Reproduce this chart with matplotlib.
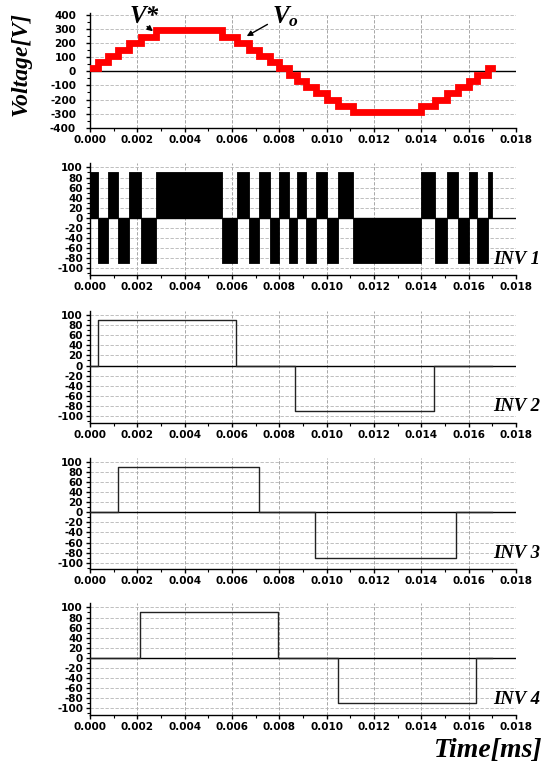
import matplotlib
matplotlib.use("Agg")
import matplotlib.pyplot as plt
from matplotlib.ticker import MultipleLocator, FormatStrFormatter

# switching instants (s) shared by the staircase and the PWM inverter
t_sw = [0.0, 0.00035, 0.00077, 0.00119, 0.00166, 0.00215, 0.00277, 0.00558,
        0.00621, 0.00671, 0.00715, 0.00761, 0.00800, 0.00841, 0.00873, 0.00913,
        0.00954, 0.01001, 0.01049, 0.01112, 0.01397, 0.01456, 0.01508, 0.01555,
        0.01600, 0.01637, 0.01681, 0.01697]
vo_levels = [23, 66, 112, 155, 200, 246, 290, 246, 200, 155, 112, 66, 23,
             -23, -66, -112, -155, -200, -246, -290, -246, -200, -155, -112,
             -66, -23, 23]
inv1_levels = [90, -90, 90, -90, 90, -90, 90, -90, 90, -90, 90, -90, 90,
               -90, 90, -90, 90, -90, 90, -90, 90, -90, 90, -90, 90, -90, 90]

inv2_t = [0.0, 0.00035, 0.00619, 0.00868, 0.01452, 0.0170]
inv2_v = [0, 90, 0, -90, 0]
inv3_t = [0.0, 0.00117, 0.00714, 0.00952, 0.01547, 0.0170]
inv3_v = [0, 90, 0, -90, 0]
inv4_t = [0.0, 0.00211, 0.00795, 0.01047, 0.01630, 0.0170]
inv4_v = [0, 90, 0, -90, 0]

plt.rcParams['font.family'] = 'DejaVu Sans'
plt.rcParams['font.weight'] = 'bold'
plt.rcParams['axes.unicode_minus'] = False
plt.rcParams['mathtext.fontset'] = 'custom'
plt.rcParams['mathtext.it'] = 'Liberation Serif:italic:bold'
plt.rcParams['mathtext.rm'] = 'Liberation Serif:bold'

fig = plt.figure(figsize=(5.46, 7.65), dpi=100)
W, H = 546.0, 765.0
left = 90 / W
width = (516 - 90) / W
serif = dict(family='Liberation Serif', weight='bold', style='italic')


def style(ax, ymaj, ymin, ylim, ypad):
    ax.set_xlim(0, 0.018)
    ax.set_ylim(*ylim)
    ax.xaxis.set_major_locator(MultipleLocator(0.002))
    ax.xaxis.set_minor_locator(MultipleLocator(0.001))
    ax.yaxis.set_major_locator(MultipleLocator(ymaj))
    ax.yaxis.set_minor_locator(MultipleLocator(ymin))
    ax.xaxis.set_major_formatter(FormatStrFormatter('%.3f'))
    ax.yaxis.set_major_formatter(FormatStrFormatter('%d'))
    for s in ['top', 'right']:
        ax.spines[s].set_visible(False)
    for s in ['left', 'bottom']:
        ax.spines[s].set_linewidth(1.0)
    ax.tick_params(axis='x', which='major', direction='out', length=3, width=1,
                   labelsize=7.5, pad=2)
    ax.tick_params(axis='y', which='major', direction='out', length=3, width=1,
                   labelsize=7.5, pad=ypad)
    ax.tick_params(which='minor', direction='out', length=2, width=0.8)
    ax.grid(True, which='major', axis='y', color='#b4b4b4', lw=0.6, ls=(0, (4, 2)))
    ax.grid(True, which='major', axis='x', color='#999999', lw=0.6, ls=(0, (4, 2)))
    ax.set_axisbelow(True)
    ax.axhline(0, color='black', lw=1.0, zorder=3)


# top panel: output staircase voltage
ax0 = fig.add_axes([left, 1 - 127.7 / H, width, 114.4 / H])
style(ax0, 100, 50, (-400, 412), 7)
ax0.step(t_sw, vo_levels + [vo_levels[-1]], where='post', color='#ff0000',
         lw=4.9, solid_joinstyle='miter', zorder=4)
ax0.annotate('', xy=(0.00275, 272), xytext=(0.00232, 331),
             arrowprops=dict(arrowstyle='-|>', color='black', lw=1.0,
                             mutation_scale=8), zorder=5)
ax0.text(0.00228, 390, 'V*', ha='center', va='center', fontsize=18, **serif)
ax0.annotate('', xy=(0.00652, 240), xytext=(0.0076, 343),
             arrowprops=dict(arrowstyle='-|>', color='black', lw=1.0,
                             mutation_scale=8), zorder=5)
ax0.text(0.00768, 391, r'$V_o$', ha='left', va='center', fontsize=18)
fig.text(21 / W, 1 - 64 / H, 'Voltage[V]', rotation=90, ha='center',
         va='center', fontsize=17, **serif)

# inverter panels
inv_bottoms = [275.0, 422.6, 569.3, 715.0]
inv_h = 111.6 / H
axes = []
for i, b in enumerate(inv_bottoms):
    ax = fig.add_axes([left, 1 - b / H, width, inv_h])
    style(ax, 20, 10, (-113, 108), 2)
    ax.text(0.946, 0.10, 'INV %d' % (i + 1), transform=ax.transAxes,
            ha='left', va='baseline', fontsize=13.5, clip_on=False, **serif)
    axes.append(ax)

axes[0].fill_between(t_sw, inv1_levels + [inv1_levels[-1]], 0, step='post',
                     color='black', lw=0.6, zorder=4)
axes[1].step(inv2_t, inv2_v + [inv2_v[-1]], where='post', color='#222222', lw=1.0, zorder=4)
axes[2].step(inv3_t, inv3_v + [inv3_v[-1]], where='post', color='#222222', lw=1.0, zorder=4)
axes[3].step(inv4_t, inv4_v + [inv4_v[-1]], where='post', color='#222222', lw=1.0, zorder=4)

fig.text(543 / W, 1 - 757 / H, 'Time[ms]', ha='right', va='baseline',
         fontsize=20, **serif)

fig.savefig('out.png', dpi=100)
